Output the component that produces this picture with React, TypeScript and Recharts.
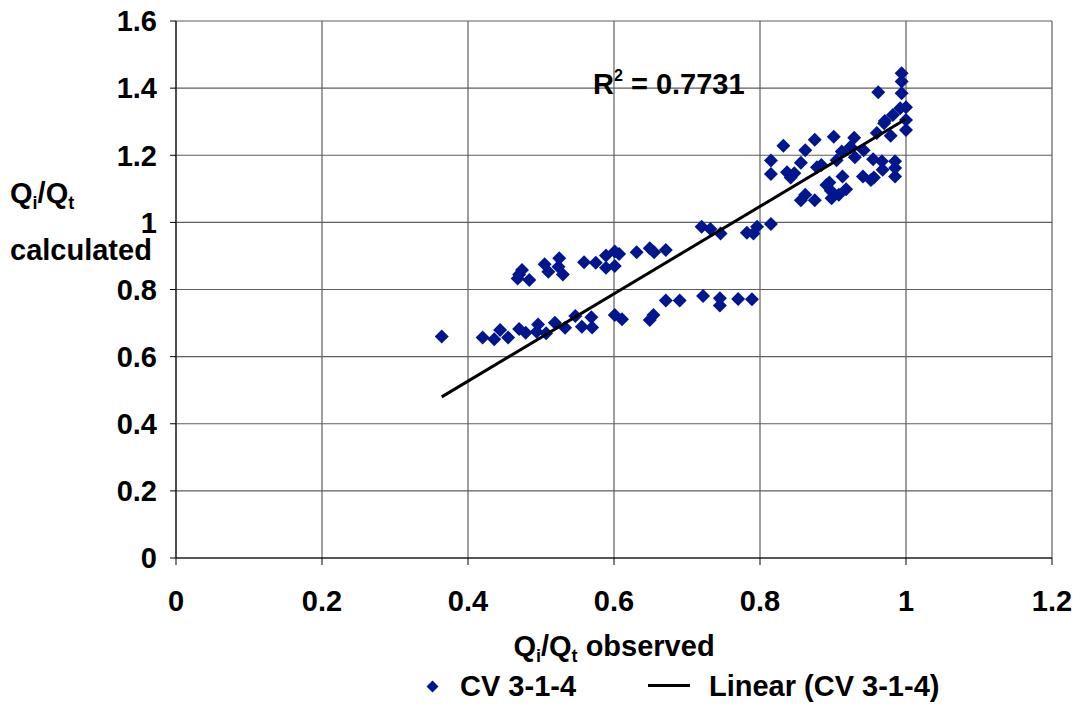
import React from 'react';
import { ScatterChart, Scatter, XAxis, YAxis, CartesianGrid } from 'recharts';

const lowerBand = [
  [0.364, 0.660], [0.420, 0.657], [0.436, 0.652], [0.444, 0.679], [0.455, 0.657],
  [0.470, 0.682], [0.479, 0.671], [0.496, 0.696], [0.494, 0.674], [0.507, 0.670],
  [0.519, 0.701], [0.533, 0.686], [0.547, 0.721], [0.556, 0.689], [0.569, 0.717],
  [0.570, 0.687], [0.601, 0.724], [0.611, 0.711], [0.649, 0.709], [0.654, 0.724],
  [0.671, 0.767], [0.690, 0.767], [0.722, 0.781], [0.745, 0.774], [0.745, 0.752],
  [0.770, 0.772], [0.789, 0.771],
];
const upperBand = [
  [0.468, 0.833], [0.474, 0.858], [0.470, 0.845], [0.484, 0.828], [0.505, 0.875],
  [0.510, 0.853], [0.525, 0.893], [0.524, 0.868], [0.530, 0.845], [0.559, 0.881],
  [0.575, 0.880], [0.589, 0.901], [0.589, 0.865], [0.601, 0.913], [0.607, 0.906],
  [0.601, 0.870], [0.631, 0.911], [0.649, 0.923], [0.655, 0.911], [0.671, 0.918],
];
const middle = [
  [0.720, 0.987], [0.732, 0.980], [0.746, 0.967], [0.782, 0.969], [0.791, 0.967],
  [0.796, 0.987], [0.815, 0.995],
];
const topCluster = [
  [0.815, 1.184], [0.815, 1.144], [0.832, 1.228], [0.837, 1.149], [0.842, 1.134],
  [0.847, 1.146], [0.856, 1.178], [0.862, 1.215], [0.875, 1.246], [0.856, 1.066],
  [0.862, 1.082], [0.875, 1.066], [0.878, 1.164], [0.884, 1.171], [0.891, 1.111],
  [0.897, 1.094], [0.898, 1.072], [0.901, 1.255], [0.905, 1.185], [0.908, 1.082],
  [0.912, 1.211], [0.913, 1.137], [0.918, 1.099], [0.924, 1.225], [0.929, 1.252],
  [0.930, 1.194], [0.941, 1.137], [0.942, 1.215], [0.952, 1.126], [0.955, 1.188],
  [0.956, 1.134], [0.960, 1.266], [0.962, 1.388], [0.967, 1.182], [0.968, 1.157],
  [0.970, 1.295], [0.979, 1.258], [0.982, 1.320], [0.985, 1.182], [0.985, 1.162],
  [0.985, 1.137], [0.994, 1.444], [0.994, 1.420], [0.994, 1.385], [0.992, 1.340],
  [1.000, 1.343], [1.000, 1.305], [1.000, 1.275], [0.971, 1.302], [0.895, 1.119],
];
// ends of the Excel linear trendline
const trendEnds = [[0.364, 0.48], [1.0, 1.308]];

const xTicks = [0, 0.2, 0.4, 0.6, 0.8, 1, 1.2];
const yTicks = [0, 0.2, 0.4, 0.6, 0.8, 1, 1.2, 1.4, 1.6];

const NAVY = '#00168f';
const FONT = '"Liberation Sans", Arial, sans-serif';

const points = [...lowerBand, ...upperBand, ...middle, ...topCluster].map(([x, y]) => ({ x, y }));
const trend = trendEnds.map(([x, y]) => ({ x, y }));

// eslint-disable-next-line @typescript-eslint/no-explicit-any
function Diamond(props: any) {
  const { cx, cy } = props;
  if (cx == null || cy == null) return null;
  const r = 7;
  return <polygon points={`${cx},${cy - r} ${cx + r},${cy} ${cx},${cy + r} ${cx - r},${cy}`} fill={NAVY} />;
}

const NoDot = () => <g />;

const txt: React.CSSProperties = {
  position: 'absolute', fontFamily: FONT, fontWeight: 'bold', fontSize: 29,
  lineHeight: '29px', color: '#000', whiteSpace: 'nowrap',
};
const sub: React.CSSProperties = { fontSize: 18, verticalAlign: '-6px', lineHeight: 0 };
const tickStyle = { fontSize: 29, fontWeight: 'bold', fill: '#000', fontFamily: FONT };

export default function App() {
  return (
    <div style={{ position: 'absolute', left: 0, top: 0, width: 1080, height: 725, background: '#fff' }}>
      <ScatterChart width={1080} height={725} margin={{ top: 21, right: 28, bottom: 0, left: 0 }}>
        <CartesianGrid stroke="#5e5e5e" strokeWidth={1.2} />
        <XAxis
          type="number" dataKey="x" domain={[0, 1.2]} ticks={xTicks} height={167}
          stroke="#000" tickSize={7} tickMargin={25} tick={tickStyle}
        />
        <YAxis
          type="number" dataKey="y" domain={[0, 1.6]} ticks={yTicks} width={176}
          stroke="#000" tickSize={6} tickMargin={13} tick={tickStyle}
        />
        <Scatter data={points} fill={NAVY} shape={Diamond} isAnimationActive={false} />
        <Scatter
          data={trend} shape={NoDot} line={{ stroke: '#000', strokeWidth: 3 }}
          isAnimationActive={false}
        />
      </ScatterChart>

      <div style={{ ...txt, left: 10, top: 179 }}>Q<span style={sub}>i</span>/Q<span style={sub}>t</span></div>
      <div style={{ ...txt, left: 10, top: 236 }}>calculated</div>
      <div style={{ ...txt, left: 176, width: 876, top: 632, textAlign: 'center' }}>
        Q<span style={sub}>i</span>/Q<span style={sub}>t</span> observed
      </div>
      <div style={{ ...txt, left: 593, top: 70 }}>
        R<span style={{ fontSize: 16, verticalAlign: '13px', lineHeight: 0 }}>2</span> = 0.7731
      </div>

      {/* legend */}
      <svg style={{ position: 'absolute', left: 426, top: 680 }} width={13} height={13}>
        <polygon points="6.5,0.5 12.5,6.5 6.5,12.5 0.5,6.5" fill={NAVY} />
      </svg>
      <div style={{ ...txt, left: 460, top: 672 }}>CV 3-1-4</div>
      <div style={{ position: 'absolute', left: 648, top: 684, width: 42, height: 3, background: '#000' }} />
      <div style={{ ...txt, left: 709, top: 672 }}>Linear (CV 3-1-4)</div>
    </div>
  );
}
